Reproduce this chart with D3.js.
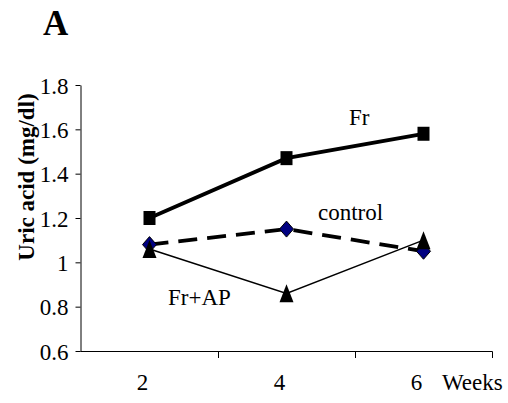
<!DOCTYPE html>
<html><head><meta charset="utf-8">
<script src="https://cdn.jsdelivr.net/npm/d3@7"></script>
<style>body{margin:0;background:#fff;}</style>
</head>
<body><svg id="c" width="508" height="403"></svg>
<script>
const weeks = ["2","4","6"];
const frValues = [1.20, 1.47, 1.58];
const controlValues = [1.08, 1.15, 1.05];
const frApValues = [1.06, 0.86, 1.10];
const yTicks = [0.6, 0.8, 1.0, 1.2, 1.4, 1.6, 1.8];
const yTickLabels = ["0.6","0.8","1","1.2","1.4","1.6","1.8"];

const FONT = "Liberation Serif";
const svg = d3.select("#c");
const x = d3.scaleBand().domain(weeks).range([81, 492]).padding(0);
const y = d3.scaleLinear().domain([0.6, 1.8]).range([351, 85]);

function txt(sel){ return sel.append("text").attr("font-family", FONT).attr("fill", "#000"); }

// Panel letter
txt(svg).attr("x", 43).attr("y", 35).attr("font-size", 35).attr("font-weight", "bold").text("A");

// Y axis
const yAxis = d3.axisLeft(y).tickValues(yTicks).tickSize(5).tickSizeOuter(0)
  .tickFormat((d,i) => yTickLabels[i]);
const gy = svg.append("g").attr("transform", "translate(80.5,0)").call(yAxis);
gy.attr("font-family", FONT).attr("font-size", 23);
gy.selectAll("path,line").attr("stroke", "#000");
gy.selectAll("text").attr("font-family", FONT).attr("font-size", 23).attr("fill", "#000").attr("x", -12).attr("dy", "0.35em");

// X axis: line with ticks at category boundaries
const gx = svg.append("g");
gx.append("line").attr("x1", 80.5).attr("x2", x.range()[1] + 0.5).attr("y1", 351.5).attr("y2", 351.5).attr("stroke", "#000");
weeks.forEach(w => {
  const bx = Math.round(x(w) + x.bandwidth()) + 0.5;
  gx.append("line").attr("x1", bx).attr("x2", bx).attr("y1", 351.5).attr("y2", 358).attr("stroke", "#000");
  txt(gx).attr("x", x(w) + x.bandwidth()/2 - 7).attr("y", 390)
    .attr("text-anchor", "middle").attr("font-size", 23).text(w);
});
txt(svg).attr("x", 442).attr("y", 390).attr("font-size", 23).text("Weeks");

// Y label
txt(svg).attr("transform", "translate(34,177) rotate(-90)").attr("text-anchor", "middle")
  .attr("font-size", 23).attr("font-weight", "bold").text("Uric acid (mg/dl)");

const cx = w => x(w) + x.bandwidth()/2;
const line = d3.line().x(d => cx(d.w)).y(d => y(d.v));
const pts = vals => weeks.map((w,i) => ({w, v: vals[i]}));

// Fr+AP thin line
svg.append("path").datum(pts(frApValues)).attr("d", line).attr("fill", "none").attr("stroke", "#000").attr("stroke-width", 1.5);
// Control dashed
svg.append("path").datum(pts(controlValues)).attr("d", line).attr("fill", "none").attr("stroke", "#000").attr("stroke-width", 3.8).attr("stroke-dasharray", "19,10");
// Fr thick
svg.append("path").datum(pts(frValues)).attr("d", line).attr("fill", "none").attr("stroke", "#000").attr("stroke-width", 3.8);

// Markers
svg.selectAll(".sq").data(pts(frValues)).enter().append("rect")
  .attr("x", d => cx(d.w) - 6).attr("y", d => y(d.v) - 7).attr("width", 12).attr("height", 14).attr("fill", "#000");
svg.selectAll(".dm").data(pts(controlValues)).enter().append("path")
  .attr("d", d => { const px = cx(d.w), py = y(d.v); return `M${px},${py-8}L${px+7},${py}L${px},${py+8}L${px-7},${py}Z`; })
  .attr("fill", "#000080").attr("stroke", "#000").attr("stroke-width", 1);
svg.selectAll(".tr").data(pts(frApValues)).enter().append("path")
  .attr("d", d => { const px = cx(d.w), py = y(d.v); return `M${px},${py-9}L${px+7},${py+9}L${px-7},${py+9}Z`; })
  .attr("fill", "#000");

// Annotations
txt(svg).attr("x", 349).attr("y", 125).attr("font-size", 23).text("Fr");
txt(svg).attr("x", 318).attr("y", 220).attr("font-size", 23).text("control");
txt(svg).attr("x", 168).attr("y", 305).attr("font-size", 23).text("Fr+AP");
</script></body></html>
